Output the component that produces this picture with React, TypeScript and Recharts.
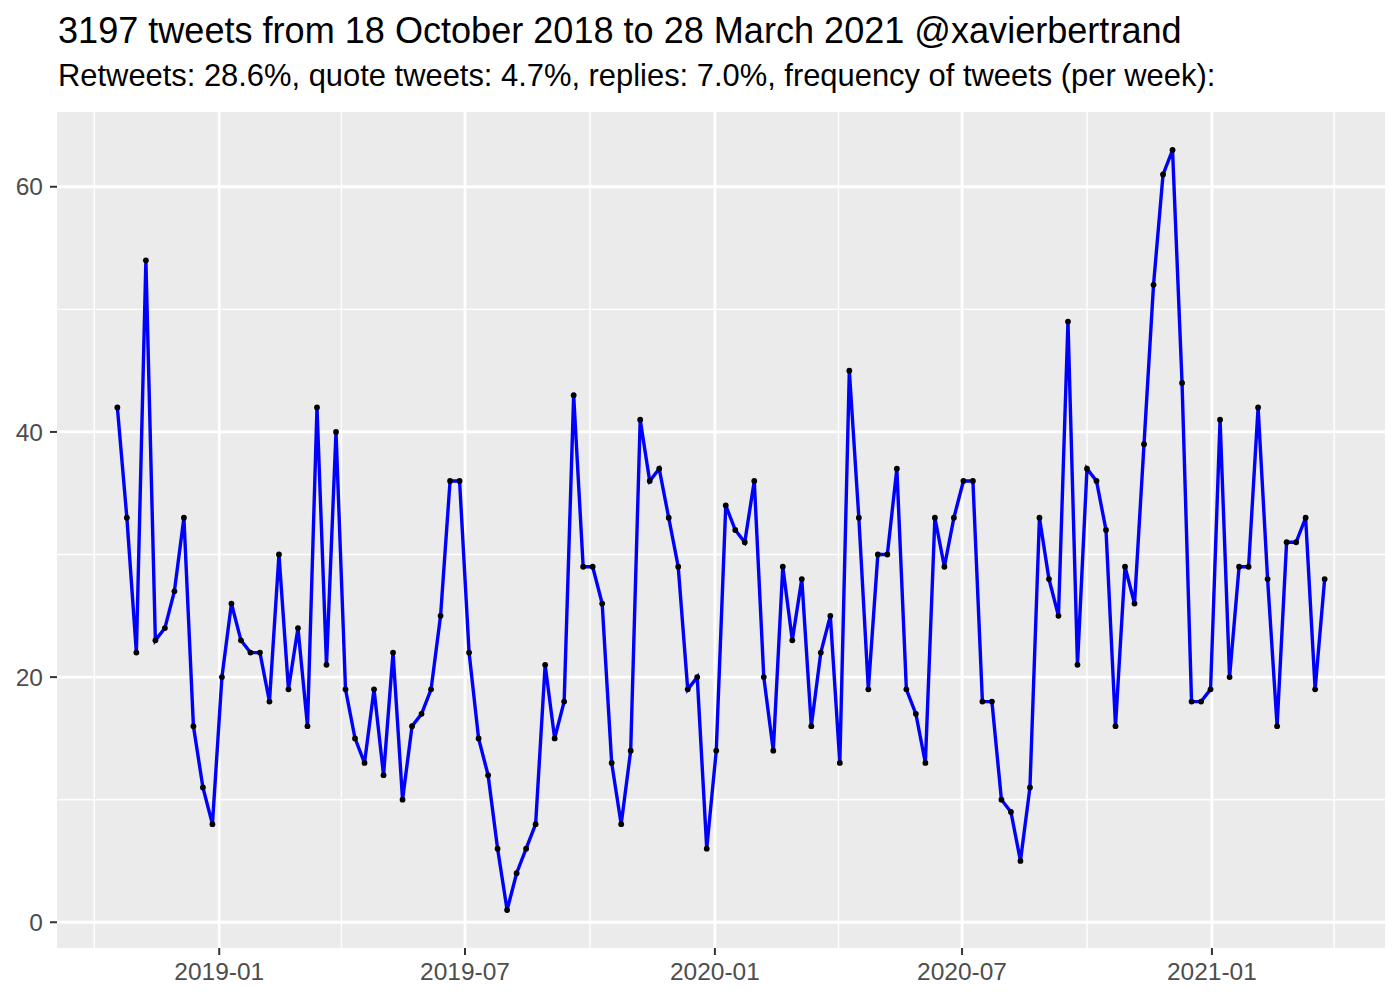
import { CartesianGrid, Line, LineChart, XAxis, YAxis } from "recharts";

const DAY = 24 * 60 * 60 * 1000;

const title = "3197 tweets from 18 October 2018 to 28 March 2021 @xavierbertrand";
const subtitle =
  "Retweets: 28.6%, quote tweets: 4.7%, replies: 7.0%, frequency of tweets (per week):";

// first weekly bucket, one value per week after it
const firstWeek = Date.UTC(2018, 9, 18);
const tweetsPerWeek = [
  42, 33, 22, 54, 23, 24, 27, 33, 16, 11,
  8, 20, 26, 23, 22, 22, 18, 30, 19, 24,
  16, 42, 21, 40, 19, 15, 13, 19, 12, 22,
  10, 16, 17, 19, 25, 36, 36, 22, 15, 12,
  6, 1, 4, 6, 8, 21, 15, 18, 43, 29,
  29, 26, 13, 8, 14, 41, 36, 37, 33, 29,
  19, 20, 6, 14, 34, 32, 31, 36, 20, 14,
  29, 23, 28, 16, 22, 25, 13, 45, 33, 19,
  30, 30, 37, 19, 17, 13, 33, 29, 33, 36,
  36, 18, 18, 10, 9, 5, 11, 33, 28, 25,
  49, 21, 37, 36, 32, 16, 29, 26, 39, 52,
  61, 63, 44, 18, 18, 19, 41, 20, 29, 29,
  42, 28, 16, 31, 31, 33, 19, 28,
];

const xTicks = [
  Date.UTC(2019, 0, 1),
  Date.UTC(2019, 6, 1),
  Date.UTC(2020, 0, 1),
  Date.UTC(2020, 6, 1),
  Date.UTC(2021, 0, 1),
];
const xMinor = [
  Date.UTC(2018, 9, 1),
  Date.UTC(2019, 3, 1),
  Date.UTC(2019, 9, 1),
  Date.UTC(2020, 3, 1),
  Date.UTC(2020, 9, 1),
  Date.UTC(2021, 3, 1),
];
const yTicks = [0, 20, 40, 60];
const yMinor = [10, 30, 50];

const data = tweetsPerWeek.map((n, i) => ({ week: firstWeek + i * 7 * DAY, n }));

// ggplot-style 5% padding on both axes
const xFirst = data[0].week;
const xLast = data[data.length - 1].week;
const xPad = (xLast - xFirst) * 0.05;
const yMin = Math.min(...tweetsPerWeek);
const yMax = Math.max(...tweetsPerWeek);
const yPad = (yMax - yMin) * 0.05;

const font = '"Liberation Sans", Arial, Helvetica, sans-serif';

function fmtMonth(t: number) {
  const d = new Date(t);
  return `${d.getUTCFullYear()}-${String(d.getUTCMonth() + 1).padStart(2, "0")}`;
}

export default function App() {
  return (
    <div style={{ position: "absolute", left: 0, top: 0, width: 1400, height: 1000, background: "#fff" }}>
      <svg width={1400} height={110} style={{ position: "absolute", left: 0, top: 0 }}>
        <text x={58} y={43} fontSize={36.1} fontFamily={font} fill="#000">
          {title}
        </text>
        <text x={58} y={86} fontSize={30.9} fontFamily={font} fill="#000">
          {subtitle}
        </text>
      </svg>
      <div style={{ position: "absolute", left: 0, top: 0 }}>
        <LineChart
          width={1400}
          height={1000}
          data={data}
          margin={{ top: 112, right: 15, bottom: 0, left: 0 }}
        >
          <CartesianGrid
            fill="#EBEBEB"
            stroke="#fff"
            strokeWidth={1.4}
            horizontalValues={yMinor}
            verticalValues={xMinor}
          />
          <CartesianGrid
            stroke="#fff"
            strokeWidth={2.8}
            horizontalValues={yTicks}
            verticalValues={xTicks}
          />
          <XAxis
            dataKey="week"
            type="number"
            scale="time"
            domain={[xFirst - xPad, xLast + xPad]}
            ticks={xTicks}
            tickFormatter={fmtMonth}
            axisLine={false}
            tickLine={{ stroke: "#333333", strokeWidth: 2 }}
            tickSize={7}
            tickMargin={8}
            height={52}
            tick={{ fill: "#4d4d4d", fontSize: 24.5, fontFamily: font }}
            allowDataOverflow
          />
          <YAxis
            type="number"
            domain={[yMin - yPad, yMax + yPad]}
            ticks={yTicks}
            axisLine={false}
            tickLine={{ stroke: "#333333", strokeWidth: 2 }}
            tickSize={7}
            tickMargin={7}
            width={57}
            tick={{ fill: "#4d4d4d", fontSize: 24.5, fontFamily: font }}
            allowDataOverflow
          />
          <Line
            dataKey="n"
            type="linear"
            stroke="#0000FF"
            strokeWidth={3.4}
            dot={{ r: 2.9, fill: "#000", stroke: "none" }}
            activeDot={false}
            isAnimationActive={false}
          />
        </LineChart>
      </div>
    </div>
  );
}
